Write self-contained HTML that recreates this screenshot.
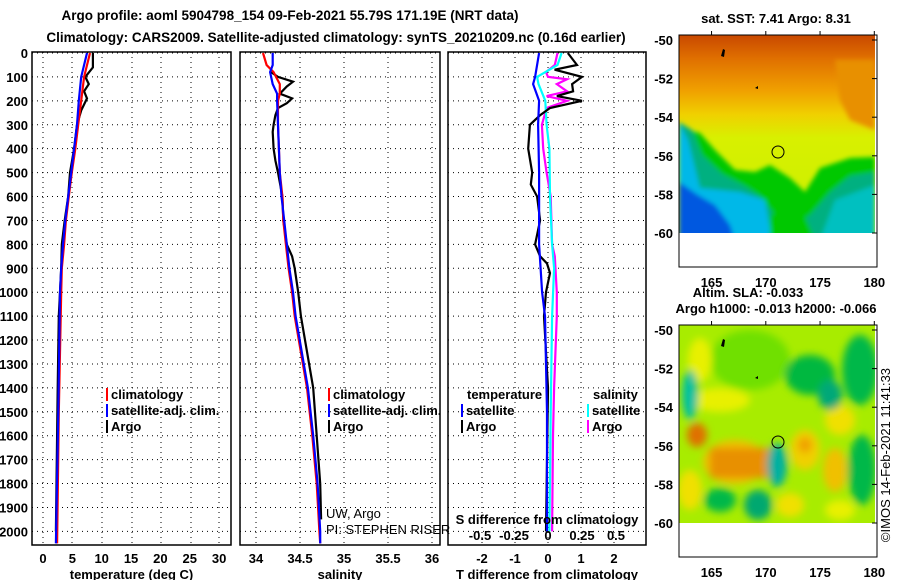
<!DOCTYPE html>
<html><head><meta charset="utf-8"><style>
html,body{margin:0;padding:0;background:#fff;}
svg{display:block;font-family:"Liberation Sans",sans-serif;}
.b{font-weight:bold;font-size:13px;}
.t{font-weight:bold;font-size:13.5px;}
</style></head><body>
<svg id="s" width="900" height="580" viewBox="0 0 900 580">
<defs>
<filter id="bl" x="-20%" y="-20%" width="140%" height="140%"><feGaussianBlur stdDeviation="4"/></filter>
<filter id="bl2"><feGaussianBlur stdDeviation="2.5"/></filter>
<clipPath id="c1"><rect x="679" y="35" width="196" height="198"/></clipPath>
<clipPath id="c2"><rect x="679" y="325" width="196" height="198"/></clipPath>
<linearGradient id="sst" x1="0" y1="0" x2="0" y2="1">
<stop offset="0" stop-color="#c84800"/><stop offset="0.12" stop-color="#e07000"/><stop offset="0.28" stop-color="#f0a000"/><stop offset="0.4" stop-color="#f0d000"/><stop offset="0.52" stop-color="#d8f000"/><stop offset="1" stop-color="#c8f000"/></linearGradient>
</defs>
<text class="t" x="290" y="20" text-anchor="middle">Argo profile: aoml 5904798_154 09-Feb-2021 55.79S 171.19E (NRT data)</text>
<text class="t" x="336" y="42" text-anchor="middle">Climatology: CARS2009. Satellite-adjusted climatology: synTS_20210209.nc (0.16d earlier)</text>
<g id="panels"></g>
<g id="maps">
<text class="b" x="776" y="23" text-anchor="middle">sat. SST: 7.41 Argo: 8.31</text>
<g clip-path="url(#c1)">
<rect x="679" y="35" width="196" height="198" fill="url(#sst)"/>
<g filter="url(#bl2)">
<polygon fill="#e89000" points="835,60 875,60 875,130 850,120 840,100"/>
<polygon fill="#00c800" points="679,128 700,133 715,150 735,170 755,172 770,165 790,178 805,192 820,168 850,158 875,157 875,240 679,240"/>
<polygon fill="#00b080" points="679,122 692,130 702,155 722,174 745,186 760,196 775,215 790,226 810,215 830,192 850,176 875,172 875,240 679,240"/>
<polygon fill="#00b8e8" points="679,122 688,140 700,188 740,192 765,200 772,240 679,240"/>
<polygon fill="#0058e0" points="679,182 698,195 715,205 730,225 735,240 679,240"/>
<polygon fill="#00c0c0" points="835,200 875,185 875,240 820,240"/>
<polygon fill="#00c800" points="770,215 800,205 815,240 770,240"/>
</g>
<circle cx="778" cy="152" r="6" fill="none" stroke="#000" stroke-width="1"/>
<path d="M721,56 l2,-7 l2,1 l-1,7z" fill="#000"/><path d="M755,88 l3,-2 l0,3z" fill="#000"/>
</g>
<rect x="679" y="35" width="198" height="232" fill="none" stroke="#000"/>
<text class="b" x="748" y="297" text-anchor="middle">Altim. SLA: -0.033</text>
<text class="b" x="776" y="313" text-anchor="middle">Argo h1000: -0.013 h2000: -0.066</text>
<g clip-path="url(#c2)">
<rect x="679" y="325" width="196" height="198" fill="#a8ec00"/>
<g filter="url(#bl)">
<ellipse cx="750" cy="360" rx="40" ry="30" fill="#70e000"/>
<ellipse cx="700" cy="360" rx="12" ry="22" fill="#e8f000"/>
<ellipse cx="720" cy="400" rx="30" ry="12" fill="#e8f000"/>
<ellipse cx="690" cy="395" rx="8" ry="25" fill="#00c0a0"/>
<ellipse cx="735" cy="462" rx="32" ry="22" fill="#f0c000"/>
<rect x="710" y="448" width="60" height="30" fill="#e89000"/>
<ellipse cx="697" cy="435" rx="10" ry="12" fill="#e07000"/>
<ellipse cx="690" cy="490" rx="12" ry="20" fill="#f0e000"/>
<ellipse cx="805" cy="450" rx="15" ry="20" fill="#f0d000"/>
<ellipse cx="805" cy="445" rx="7" ry="8" fill="#f0a000"/>
<ellipse cx="835" cy="470" rx="12" ry="22" fill="#f0c000"/>
<ellipse cx="840" cy="420" rx="15" ry="15" fill="#f0e000"/>
<ellipse cx="810" cy="375" rx="25" ry="20" fill="#00b840"/>
<ellipse cx="830" cy="395" rx="12" ry="15" fill="#00a878"/>
<ellipse cx="860" cy="370" rx="18" ry="35" fill="#00b848"/>
<ellipse cx="862" cy="470" rx="14" ry="35" fill="#00b848"/>
<ellipse cx="777" cy="465" rx="10" ry="22" fill="#00b0a0"/>
<ellipse cx="720" cy="500" rx="16" ry="12" fill="#00b848"/>
<ellipse cx="758" cy="505" rx="14" ry="15" fill="#00a870"/>
<ellipse cx="790" cy="505" rx="14" ry="12" fill="#f0e000"/>
<ellipse cx="840" cy="510" rx="15" ry="10" fill="#e8f000"/>
</g>
<circle cx="778" cy="442" r="6" fill="none" stroke="#000" stroke-width="1"/>
<path d="M721,346 l2,-7 l2,1 l-1,7z" fill="#000"/><path d="M755,378 l3,-2 l0,3z" fill="#000"/>
</g>
<rect x="679" y="325" width="198" height="232" fill="none" stroke="#000"/>
<text x="890" y="455" font-size="13" text-anchor="middle" transform="rotate(-90 890 455)">©IMOS 14-Feb-2021 11:41:33</text>
<g id="mapaxes"></g>
</g>
</svg>
<script>
// ---- data ----
const tDepth=[0,60,100,130,160,190,240,300,400,500,600,700,800,900,1000,1100,1400,2000];
const tArgo=[8.5,8.5,7.2,7.8,7.0,7.5,6.5,5.8,5.3,4.6,4.3,3.7,3.2,3.1,2.9,2.7,2.5,2.2];
const cDepth=[0,100,200,300,400,500,600,700,800,900,1000,1500,2050];
const tClim=[8.0,7.0,6.5,6.0,5.5,4.9,4.4,3.9,3.6,3.2,3.1,2.7,2.4];
const tSat=[7.5,6.5,6.1,5.8,5.3,4.8,4.3,3.8,3.4,3.1,2.9,2.6,2.2];
const sDepth=[0,50,80,130,170,200,300,400,500,600,700,800,900,1000,1100,1400,1600,1800,2000,2050];
const sClim=[34.08,34.12,34.2,34.27,34.27,34.25,34.25,34.26,34.27,34.3,34.31,34.34,34.37,34.41,34.44,34.58,34.64,34.69,34.72,34.73];
const sSat=[34.19,34.19,34.16,34.19,34.24,34.24,34.25,34.26,34.27,34.29,34.32,34.35,34.38,34.42,34.45,34.59,34.65,34.7,34.73,34.73];
const saDepth=[80,100,120,140,170,190,210,230,260,300,330,400,450,500,600,700,800,850,900,1000,1100,1400,1600,1800,1950];
const sArgo=[34.17,34.25,34.42,34.35,34.27,34.41,34.35,34.25,34.22,34.2,34.19,34.2,34.22,34.25,34.3,34.31,34.35,34.41,34.44,34.48,34.51,34.65,34.69,34.73,34.74];
const dDepth=[0,50,70,100,130,160,180,200,230,260,300,400,500,550,600,700,800,850,880,920,1000,1100,1400,2000];
const dtArgo=[0.6,0.88,0.2,1.03,0.73,0.76,0.27,1.03,0.06,-0.24,-0.55,-0.6,-0.48,-0.52,-0.33,-0.24,-0.39,-0.24,-0.03,0.06,-0.06,-0.12,0,-0.06];
const d2Depth=[0,100,130,200,300,500,800,1000,1100,1500,2000];
const dtSat=[-0.27,-0.39,-0.45,-0.27,-0.3,-0.27,-0.27,-0.18,-0.09,-0.03,-0.03];
const d3Depth=[0,50,100,130,200,300,400,600,800,900,1100,1500,2000];
const dsSat=[0.1,0.07,-0.08,-0.07,-0.02,-0.01,0.01,0.015,0.03,0.045,0.03,0.02,0.01];
const d4Depth=[0,50,80,100,110,130,160,180,200,230,300,400,500,600,800,850,1000,1100,1400,1600,2000];
const dsArgo=[0.07,0.05,-0.015,0,0.14,0.065,0.14,-0.01,0.14,-0.01,-0.045,-0.035,-0.01,0.02,0.03,0.05,0.065,0.065,0.045,0.037,0.03];
const depthTicks=[0,100,200,300,400,500,600,700,800,900,1000,1100,1200,1300,1400,1500,1600,1700,1800,1900,2000];
const tTicks=[0,5,10,15,20,25,30];
const sTicks=[34,34.5,35,35.5,36];
const dTicks=[-2,-1,0,1,2];
const dsTicks=[-0.5,-0.25,0,0.25,0.5];
const latTicks=[-50,-52,-54,-56,-58,-60];
const lonTicks=[165,170,175,180];

const NS='http://www.w3.org/2000/svg';
const Y=d=>53+d*0.2392;
function mk(tag,attrs,parent,txt){const e=document.createElementNS(NS,tag);for(const k in attrs)e.setAttribute(k,attrs[k]);if(txt!==undefined)e.textContent=txt;parent.appendChild(e);return e;}
const P=document.getElementById('panels');
const panels=[
 {x0:32,x1:231,X:v=>43+v*5.87,ticks:tTicks,lab:'temperature (deg C)',name:'temperature-panel'},
 {x0:240,x1:440,X:v=>256+(v-34)*88,ticks:sTicks,lab:'salinity',name:'salinity-panel'},
 {x0:448,x1:646,X:v=>548+v*33,ticks:dTicks,lab:'T difference from climatology',name:'difference-panel'}];
panels.forEach((p,i)=>{
 const g=mk('g',{},P);
 
 
 const grid=mk('g',{stroke:'#000','stroke-width':1,'stroke-dasharray':'1,4'},g);
 
 
 depthTicks.forEach(d=>{if(d%100===0)mk('line',{x1:p.x0,x2:p.x1,y1:Y(d),y2:Y(d)},grid);});
 let gx=i===0?[43,72,102,132,161,191,219]:p.ticks.map(p.X);
 gx.forEach(x=>mk('line',{x1:x,x2:x,y1:52,y2:545},grid));
 const tk=mk('g',{class:'b','text-anchor':'middle'},g);
 
 
 p.ticks.forEach(v=>mk('text',{x:p.X(v),y:563},tk,String(v)));
 const xl=mk('text',{class:'b',x:(p.x0+p.x1)/2,y:579,'text-anchor':'middle'},g,p.lab);
 
 
 const fr=mk('rect',{x:p.x0,y:52,width:p.x1-p.x0,height:493,fill:'none',stroke:'#000','stroke-width':1.5},g);
 
 
});
const yl=mk('g',{class:'b','text-anchor':'end'},P);


depthTicks.forEach(d=>mk('text',{x:28,y:Y(d)+5},yl,String(d)));
function line(xs,ds,X,col,name,w){
 const pts=xs.map((v,i)=>X(v).toFixed(1)+','+Y(ds[i]).toFixed(1)).join(' ');
 const e=mk('polyline',{points:pts,fill:'none',stroke:col,'stroke-width':w||2.2},P);
 
 
}
const [A,B,C]=panels;
line(tArgo,tDepth,A.X,'#000','temp-argo-line');
line(tClim,cDepth,A.X,'#f00','temp-climatology-line');
line(tSat,cDepth,A.X,'#00f','temp-satellite-line');
line(sArgo,saDepth,B.X,'#000','sal-argo-line');
line(sClim,sDepth,B.X,'#f00','sal-climatology-line');
line(sSat,sDepth,B.X,'#00f','sal-satellite-line');
const XS=v=>548+v*136;
line(dsArgo,d4Depth,XS,'#f0f','s-diff-argo-line');
line(dsSat,d3Depth,XS,'#0ff','s-diff-satellite-line');
line(dtArgo,dDepth,C.X,'#000','t-diff-argo-line');
line(dtSat,d2Depth,C.X,'#00f','t-diff-satellite-line');
const st=mk('text',{class:'b',x:547,y:524,'text-anchor':'middle'},P,'S difference from climatology');


const sg=mk('g',{class:'b','text-anchor':'middle'},P);


dsTicks.forEach(v=>mk('text',{x:XS(v),y:540},sg,String(v)));
function leg(x,y,col,txt,name){
 const g=mk('g',{},P);
 
 
 if(col)mk('rect',{x:x,y:y-11,width:2,height:13,fill:col},g);
 mk('text',{class:'b',x:x+5,y:y},g,txt);
}
leg(106,399,'#f00','climatology','legend-temp-climatology');
leg(106,415,'#00f','satellite-adj. clim.','legend-temp-satellite');
leg(106,431,'#000','Argo','legend-temp-argo');
leg(328,399,'#f00','climatology','legend-sal-climatology');
leg(328,415,'#00f','satellite-adj. clim.','legend-sal-satellite');
leg(328,431,'#000','Argo','legend-sal-argo');
leg(462,399,null,'temperature','legend-temperature-header');
leg(461,415,'#00f','satellite','legend-t-satellite');
leg(461,431,'#000','Argo','legend-t-argo');
leg(588,399,null,'salinity','legend-salinity-header');
leg(587,415,'#0ff','satellite','legend-s-satellite');
leg(587,431,'#f0f','Argo','legend-s-argo');
const pi=mk('g',{'font-size':'13px'},P);


mk('text',{x:326,y:518},pi,'UW, Argo');
mk('text',{x:326,y:534},pi,'PI: STEPHEN RISER');
const M=document.getElementById('mapaxes');
const LX=l=>679+(l-162)*10.85;
[[35,40],[325,330]].forEach(([top,lat0],k)=>{
 const g=mk('g',{class:'b'},M);
 
 
 latTicks.forEach(l=>{const y=lat0+(-50-l)*19.3;
  mk('text',{x:673,y:y+5,'text-anchor':'end'},g,String(l));
  mk('line',{x1:877,x2:872,y1:y,y2:y,stroke:'#000'},g);});
 lonTicks.forEach(l=>{const x=LX(l);
  mk('text',{x:x,y:top+252,'text-anchor':'middle'},g,String(l));
  mk('line',{x1:x,x2:x,y1:top,y2:top-4,stroke:'#000'},g);});
});
</script>
</body></html>
